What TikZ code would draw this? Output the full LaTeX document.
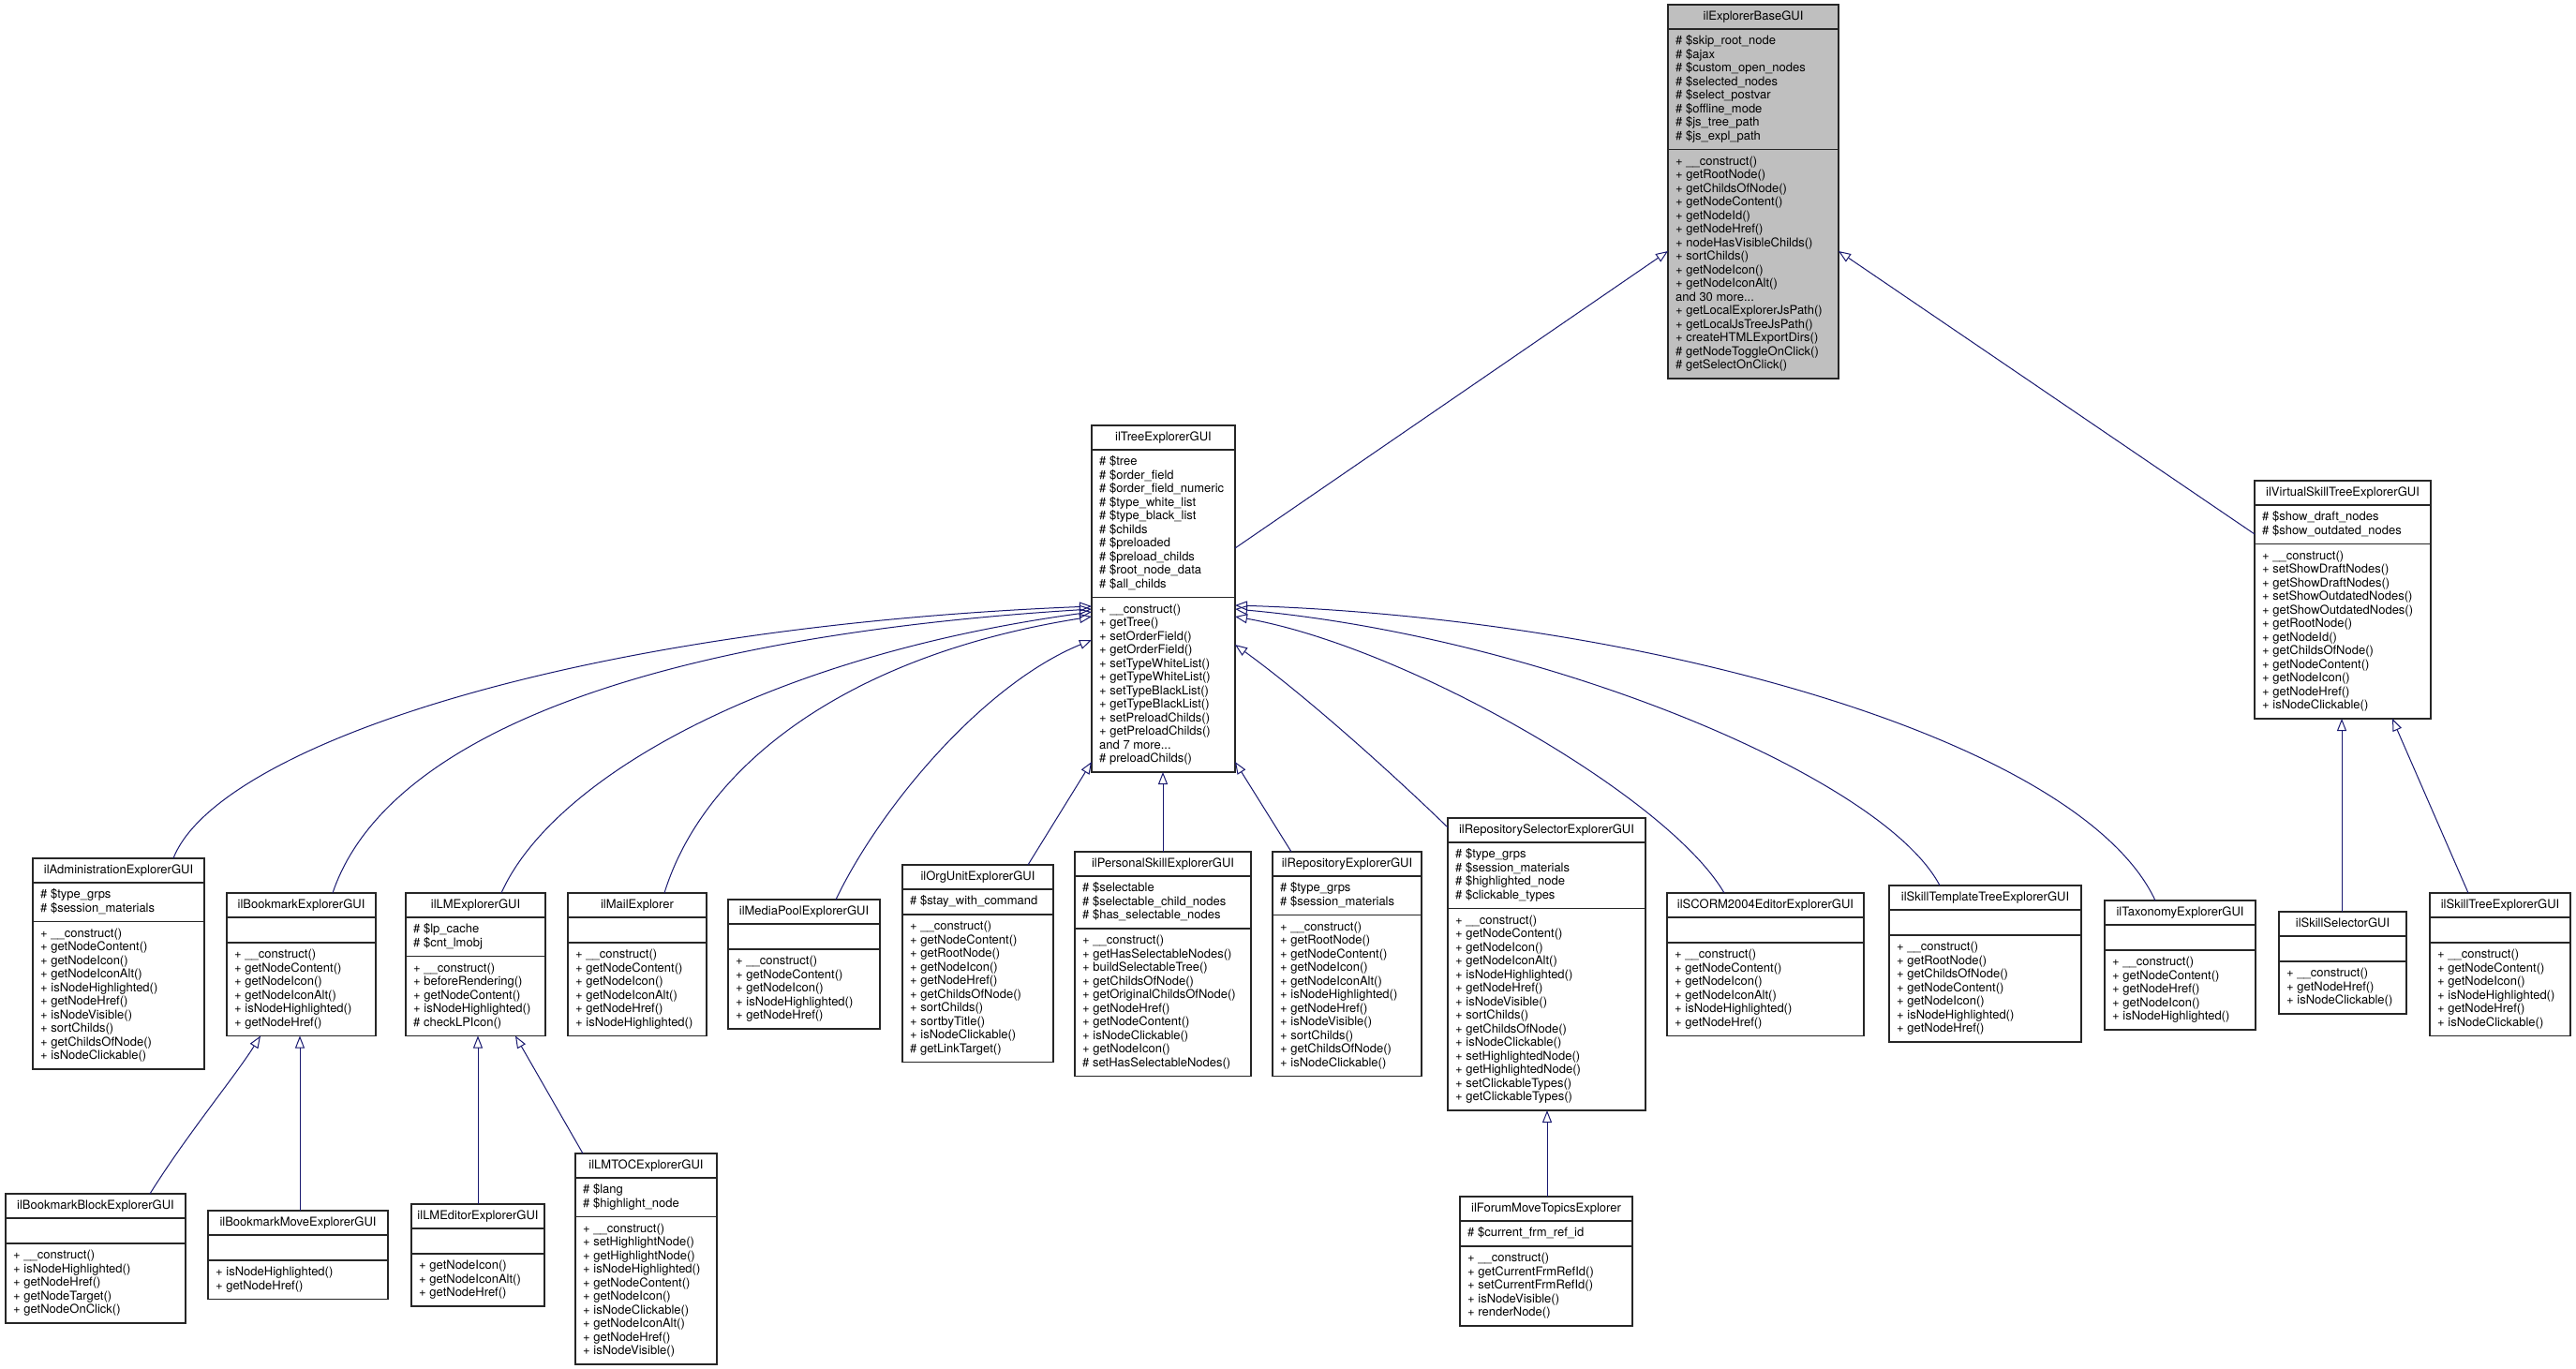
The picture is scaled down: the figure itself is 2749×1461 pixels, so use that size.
\documentclass[tikz,border=0pt]{standalone}
\usepackage{fontspec}
\setmainfont{TeX Gyre Heros}
\usetikzlibrary{calc,arrows.meta}
\definecolor{edgeblue}{HTML}{191970}
\definecolor{boxgray}{HTML}{BFBFBF}
\newcommand\clsl[1]{\hbox{\vrule height 10.5pt depth 4pt width 0pt\relax #1}}
\newcommand\pub[1]{\clsl{+ #1}}
\newcommand\prot[1]{\clsl{\# #1}}
\def\boxfill{white}
\newcommand\classbox[9]{%
  \pgfmathsetmacro\clsHf{max(#6,1)*14.5+12.5}%
  \pgfmathsetmacro\clsHm{max(#8,1)*14.5+12.5}%
  \pgfmathsetmacro\clsHt{26+\clsHf+\clsHm}%
  \node[clsbox, fill=\boxfill, minimum width=#4pt, minimum height=\clsHt pt, anchor=north west] (#1) at (#2,#3) {};
  \draw[clsline] ($(#1.north west)+(0,26)$) -- ($(#1.north east)+(0,26)$);
  \draw[clsline] ($(#1.north west)+(0,26+\clsHf)$) -- ($(#1.north east)+(0,26+\clsHf)$);
  \node[clstxt, anchor=center] (#1-t) at ($(#1.north)+(0,13)$) {\clsl{#5}};
  \node[clstxt, anchor=west] (#1-f) at ($(#1.north west)+(8,26+\clsHf/2)$) {\vbox{\offinterlineskip #7}};
  \node[clstxt, anchor=west] (#1-m) at ($(#1.north west)+(8,26+\clsHf+\clsHm/2)$) {\vbox{\offinterlineskip #9}};
}
\tikzset{
  clsbox/.style={draw=black!85, line width=1.3pt, rectangle, inner sep=0pt, outer sep=0pt},
  clsline/.style={draw=black!85, line width=1.3pt},
  clstxt/.style={font=\fontsize{13pt}{14.5pt}\selectfont, inner sep=0pt, text=black},
  inh/.style={draw=edgeblue, line width=1pt, -{Triangle[open, length=13pt, width=10pt]}}
}
\begin{document}
\begin{tikzpicture}[x=1pt, y=-1pt]
\fill[white] (0,0) rectangle (2749,1461);
\useasboundingbox (0,0) rectangle (2749,1461);

\def\boxfill{boxgray}
\classbox{base}{1780}{5}{182}{ilExplorerBaseGUI}{8}{%
\prot{\$skip\_root\_node}\prot{\$ajax}\prot{\$custom\_open\_nodes}\prot{\$selected\_nodes}%
\prot{\$select\_postvar}\prot{\$offline\_mode}\prot{\$js\_tree\_path}\prot{\$js\_expl\_path}}{16}{%
\pub{\_\_construct()}\pub{getRootNode()}\pub{getChildsOfNode()}\pub{getNodeContent()}%
\pub{getNodeId()}\pub{getNodeHref()}\pub{nodeHasVisibleChilds()}\pub{sortChilds()}%
\pub{getNodeIcon()}\pub{getNodeIconAlt()}\clsl{and 30 more...}\pub{getLocalExplorerJsPath()}%
\pub{getLocalJsTreeJsPath()}\pub{createHTMLExportDirs()}\prot{getNodeToggleOnClick()}\prot{getSelectOnClick()}}
\def\boxfill{white}

\classbox{tree}{1165}{454}{153}{ilTreeExplorerGUI}{10}{%
\prot{\$tree}\prot{\$order\_field}\prot{\$order\_field\_numeric}\prot{\$type\_white\_list}%
\prot{\$type\_black\_list}\prot{\$childs}\prot{\$preloaded}\prot{\$preload\_childs}%
\prot{\$root\_node\_data}\prot{\$all\_childs}}{12}{%
\pub{\_\_construct()}\pub{getTree()}\pub{setOrderField()}\pub{getOrderField()}%
\pub{setTypeWhiteList()}\pub{getTypeWhiteList()}\pub{setTypeBlackList()}\pub{getTypeBlackList()}%
\pub{setPreloadChilds()}\pub{getPreloadChilds()}\clsl{and 7 more...}\prot{preloadChilds()}}

\classbox{vste}{2406}{513}{188}{ilVirtualSkillTreeExplorerGUI}{2}{%
\prot{\$show\_draft\_nodes}\prot{\$show\_outdated\_nodes}}{12}{%
\pub{\_\_construct()}\pub{setShowDraftNodes()}\pub{getShowDraftNodes()}\pub{setShowOutdatedNodes()}%
\pub{getShowOutdatedNodes()}\pub{getRootNode()}\pub{getNodeId()}\pub{getChildsOfNode()}%
\pub{getNodeContent()}\pub{getNodeIcon()}\pub{getNodeHref()}\pub{isNodeClickable()}}

\classbox{admin}{35}{916}{183}{ilAdministrationExplorerGUI}{2}{%
\prot{\$type\_grps}\prot{\$session\_materials}}{10}{%
\pub{\_\_construct()}\pub{getNodeContent()}\pub{getNodeIcon()}\pub{getNodeIconAlt()}%
\pub{isNodeHighlighted()}\pub{getNodeHref()}\pub{isNodeVisible()}\pub{sortChilds()}%
\pub{getChildsOfNode()}\pub{isNodeClickable()}}

\classbox{bookmark}{242}{953}{159}{ilBookmarkExplorerGUI}{0}{}{6}{%
\pub{\_\_construct()}\pub{getNodeContent()}\pub{getNodeIcon()}\pub{getNodeIconAlt()}%
\pub{isNodeHighlighted()}\pub{getNodeHref()}}

\classbox{lm}{433}{953}{149}{ilLMExplorerGUI}{2}{%
\prot{\$lp\_cache}\prot{\$cnt\_lmobj}}{5}{%
\pub{\_\_construct()}\pub{beforeRendering()}\pub{getNodeContent()}\pub{isNodeHighlighted()}%
\prot{checkLPIcon()}}

\classbox{mail}{606}{953}{148}{ilMailExplorer}{0}{}{6}{%
\pub{\_\_construct()}\pub{getNodeContent()}\pub{getNodeIcon()}\pub{getNodeIconAlt()}%
\pub{getNodeHref()}\pub{isNodeHighlighted()}}

\classbox{media}{777}{960}{162}{ilMediaPoolExplorerGUI}{0}{}{5}{%
\pub{\_\_construct()}\pub{getNodeContent()}\pub{getNodeIcon()}\pub{isNodeHighlighted()}%
\pub{getNodeHref()}}

\classbox{org}{963}{923}{161}{ilOrgUnitExplorerGUI}{1}{%
\prot{\$stay\_with\_command}}{10}{%
\pub{\_\_construct()}\pub{getNodeContent()}\pub{getRootNode()}\pub{getNodeIcon()}%
\pub{getNodeHref()}\pub{getChildsOfNode()}\pub{sortChilds()}\pub{sortbyTitle()}%
\pub{isNodeClickable()}\prot{getLinkTarget()}}

\classbox{pskill}{1147}{909}{188}{ilPersonalSkillExplorerGUI}{3}{%
\prot{\$selectable}\prot{\$selectable\_child\_nodes}\prot{\$has\_selectable\_nodes}}{10}{%
\pub{\_\_construct()}\pub{getHasSelectableNodes()}\pub{buildSelectableTree()}\pub{getChildsOfNode()}%
\pub{getOriginalChildsOfNode()}\pub{getNodeHref()}\pub{getNodeContent()}\pub{isNodeClickable()}%
\pub{getNodeIcon()}\prot{setHasSelectableNodes()}}

\classbox{repo}{1358}{909}{159}{ilRepositoryExplorerGUI}{2}{%
\prot{\$type\_grps}\prot{\$session\_materials}}{11}{%
\pub{\_\_construct()}\pub{getRootNode()}\pub{getNodeContent()}\pub{getNodeIcon()}%
\pub{getNodeIconAlt()}\pub{isNodeHighlighted()}\pub{getNodeHref()}\pub{isNodeVisible()}%
\pub{sortChilds()}\pub{getChildsOfNode()}\pub{isNodeClickable()}}

\classbox{reposel}{1545}{873}{211}{ilRepositorySelectorExplorerGUI}{4}{%
\prot{\$type\_grps}\prot{\$session\_materials}\prot{\$highlighted\_node}\prot{\$clickable\_types}}{14}{%
\pub{\_\_construct()}\pub{getNodeContent()}\pub{getNodeIcon()}\pub{getNodeIconAlt()}%
\pub{isNodeHighlighted()}\pub{getNodeHref()}\pub{isNodeVisible()}\pub{sortChilds()}%
\pub{getChildsOfNode()}\pub{isNodeClickable()}\pub{setHighlightedNode()}\pub{getHighlightedNode()}%
\pub{setClickableTypes()}\pub{getClickableTypes()}}

\classbox{scorm}{1779}{953}{210}{ilSCORM2004EditorExplorerGUI}{0}{}{6}{%
\pub{\_\_construct()}\pub{getNodeContent()}\pub{getNodeIcon()}\pub{getNodeIconAlt()}%
\pub{isNodeHighlighted()}\pub{getNodeHref()}}

\classbox{stemp}{2016}{945}{205}{ilSkillTemplateTreeExplorerGUI}{0}{}{7}{%
\pub{\_\_construct()}\pub{getRootNode()}\pub{getChildsOfNode()}\pub{getNodeContent()}%
\pub{getNodeIcon()}\pub{isNodeHighlighted()}\pub{getNodeHref()}}

\classbox{tax}{2246}{961}{161}{ilTaxonomyExplorerGUI}{0}{}{5}{%
\pub{\_\_construct()}\pub{getNodeContent()}\pub{getNodeHref()}\pub{getNodeIcon()}%
\pub{isNodeHighlighted()}}

\classbox{ssel}{2432}{973}{136}{ilSkillSelectorGUI}{0}{}{3}{%
\pub{\_\_construct()}\pub{getNodeHref()}\pub{isNodeClickable()}}

\classbox{stree}{2593}{953}{150}{ilSkillTreeExplorerGUI}{0}{}{6}{%
\pub{\_\_construct()}\pub{getNodeContent()}\pub{getNodeIcon()}\pub{isNodeHighlighted()}%
\pub{getNodeHref()}\pub{isNodeClickable()}}

\classbox{bblock}{6}{1274}{192}{ilBookmarkBlockExplorerGUI}{0}{}{5}{%
\pub{\_\_construct()}\pub{isNodeHighlighted()}\pub{getNodeHref()}\pub{getNodeTarget()}%
\pub{getNodeOnClick()}}

\classbox{bmove}{222}{1292}{192}{ilBookmarkMoveExplorerGUI}{0}{}{2}{%
\pub{isNodeHighlighted()}\pub{getNodeHref()}}

\classbox{lmed}{439}{1285}{142}{ilLMEditorExplorerGUI}{0}{}{3}{%
\pub{getNodeIcon()}\pub{getNodeIconAlt()}\pub{getNodeHref()}}

\classbox{lmtoc}{614}{1231}{151}{ilLMTOCExplorerGUI}{2}{%
\prot{\$lang}\prot{\$highlight\_node}}{10}{%
\pub{\_\_construct()}\pub{setHighlightNode()}\pub{getHighlightNode()}\pub{isNodeHighlighted()}%
\pub{getNodeContent()}\pub{getNodeIcon()}\pub{isNodeClickable()}\pub{getNodeIconAlt()}%
\pub{getNodeHref()}\pub{isNodeVisible()}}

\classbox{forum}{1558}{1277}{184}{ilForumMoveTopicsExplorer}{1}{%
\prot{\$current\_frm\_ref\_id}}{5}{%
\pub{\_\_construct()}\pub{getCurrentFrmRefId()}\pub{setCurrentFrmRefId()}\pub{isNodeVisible()}%
\pub{renderNode()}}

% inheritance edges
\draw[inh] ($(tree.north east)+(0,131)$) -- ($(base.north west)+(0,263)$);
\draw[inh] ($(vste.north west)+(0,57)$) -- ($(base.north east)+(0,263)$);

\draw[inh] ($(admin.north west)+(150,0)$) .. controls (230,800) and (600,670) .. ($(tree.north west)+(0,193)$);
\draw[inh] ($(bookmark.north west)+(113,0)$) .. controls (410,790) and (680,680) .. ($(tree.north west)+(0,196)$);
\draw[inh] ($(lm.north west)+(102,0)$) .. controls (590,830) and (820,700) .. ($(tree.north west)+(0,199)$);
\draw[inh] ($(mail.north west)+(103,0)$) .. controls (750,820) and (900,700) .. ($(tree.north west)+(0,204)$);
\draw[inh] ($(media.north west)+(115,0)$) .. controls (940,860) and (1050,730) .. ($(tree.north west)+(0,229)$);
\draw[inh] ($(org.north west)+(134,0)$) -- ($(tree.north west)+(0,359)$);
\draw[inh] ($(pskill.north west)+(94,0)$) -- ($(tree.south west)+(76,0)$);
\draw[inh] ($(repo.north west)+(20,0)$) -- ($(tree.north east)+(0,359)$);
\draw[inh] ($(reposel.north west)+(0,10)$) .. controls (1480,820) and (1390,740) .. ($(tree.north east)+(0,234)$);
\draw[inh] ($(scorm.north west)+(61,0)$) .. controls (1780,850) and (1500,690) .. ($(tree.north east)+(0,204)$);
\draw[inh] ($(stemp.north west)+(54,0)$) .. controls (2010,830) and (1650,680) .. ($(tree.north east)+(0,196)$);
\draw[inh] ($(tax.north west)+(54,0)$) .. controls (2220,790) and (1760,660) .. ($(tree.north east)+(0,192)$);

\draw[inh] ($(ssel.north west)+(67,0)$) -- ($(vste.south west)+(93,0)$);
\draw[inh] ($(stree.north west)+(41,0)$) -- ($(vste.south west)+(147,0)$);

\draw[inh] ($(bblock.north west)+(154,0)$) .. controls (200,1210) and (250,1150) .. ($(bookmark.south west)+(36,0)$);
\draw[inh] ($(bmove.north west)+(98,0)$) -- ($(bookmark.south west)+(78,0)$);
\draw[inh] ($(lmed.north west)+(71,0)$) -- ($(lm.south west)+(77,0)$);
\draw[inh] ($(lmtoc.north west)+(8,0)$) -- ($(lm.south west)+(117,0)$);
\draw[inh] ($(forum.north west)+(93,0)$) -- ($(reposel.south west)+(106,0)$);
\end{tikzpicture}
\end{document}
